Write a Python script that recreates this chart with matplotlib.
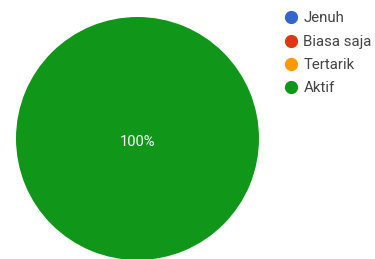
import matplotlib.pyplot as plt
from matplotlib.lines import Line2D

labels = ["Jenuh", "Biasa saja", "Tertarik", "Aktif"]
counts = [0, 0, 0, 30]
colors = ["#3366cc", "#dc3912", "#ff9900", "#109618"]

plt.rcParams['font.family'] = ['Roboto', 'DejaVu Sans']

fig = plt.figure(figsize=(3.75, 2.59), dpi=100)
ax = fig.add_axes([16 / 375, -1 / 259, 243 / 375, 243 / 259])


def pct_label(p):
    return f"{p:.0f}%" if p > 0 else ""


wedges, texts, autotexts = ax.pie(
    counts, colors=colors, startangle=90, counterclock=False,
    autopct=pct_label, pctdistance=0.0,
    wedgeprops=dict(linewidth=0),
    textprops=dict(color="white", fontsize=10.5),
)
for t in autotexts:
    t.set_y(-0.03)
ax.set_xlim(-1, 1)
ax.set_ylim(-1, 1)

handles = [Line2D([], [], marker="o", linestyle="none", markersize=8.5,
                  markerfacecolor=c, markeredgecolor=c) for c in colors]
fig.legend(handles, labels, loc="upper left", bbox_to_anchor=(280 / 375, 1 - 7 / 259),
           frameon=False, fontsize=10.8, handlelength=0.8, handletextpad=0.45,
           labelspacing=0.62, labelcolor="#444444", borderaxespad=0, borderpad=0.3)

fig.savefig("out.png", dpi=100)
